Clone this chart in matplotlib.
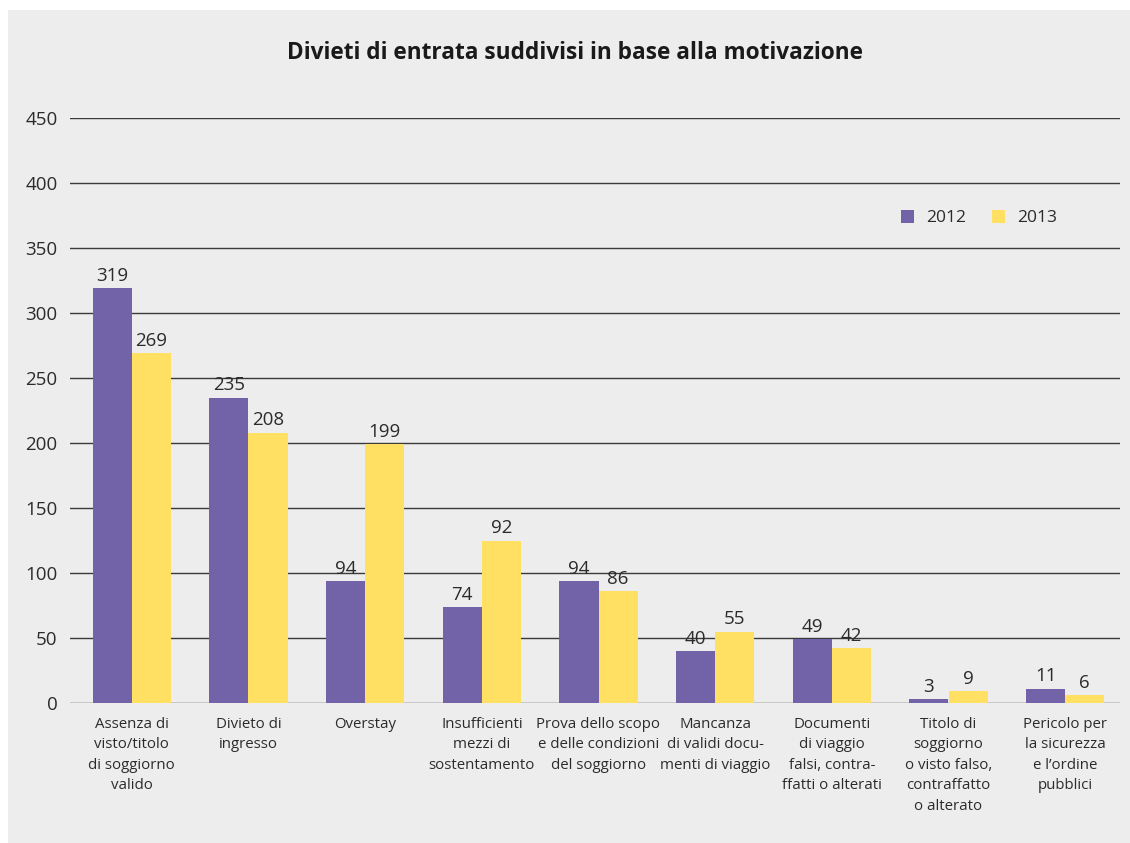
import matplotlib
matplotlib.use("Agg")
import matplotlib.pyplot as plt
import numpy as np
from matplotlib.patches import Rectangle

categories = [
    "Assenza di\nvisto/titolo\ndi soggiorno\nvalido",
    "Divieto di\ningresso",
    "Overstay",
    "Insufficienti\nmezzi di\nsostentamento",
    "Prova dello scopo\ne delle condizioni\ndel soggiorno",
    "Mancanza\ndi validi docu-\nmenti di viaggio",
    "Documenti\ndi viaggio\nfalsi, contra-\nffatti o alterati",
    "Titolo di\nsoggiorno\no visto falso,\ncontraffatto\no alterato",
    "Pericolo per\nla sicurezza\ne l\u2019ordine\npubblici",
]
series_names = ["2012", "2013"]
values_2012 = [319, 235, 94, 74, 94, 40, 49, 3, 11]
values_2013 = [269, 208, 199, 125, 86, 55, 42, 9, 6]   # bar heights as drawn
labels_2012 = ["319", "235", "94", "74", "94", "40", "49", "3", "11"]
labels_2013 = ["269", "208", "199", "92", "86", "55", "42", "9", "6"]
yticks = [0, 50, 100, 150, 200, 250, 300, 350, 400, 450]

purple = "#7263A8"
yellow = "#FFE063"
bg = "#EDEDED"
txt = "#2b2b2b"

plt.rcParams['font.family'] = ['Open Sans', 'DejaVu Sans']

W, H = 1130, 843
fig = plt.figure(figsize=(W / 100, H / 100), dpi=100)
fig.patch.set_facecolor("white")
fig.patches.append(Rectangle((8 / W, 0), 1 - 8 / W, 1 - 10 / H,
                             transform=fig.transFigure, facecolor=bg,
                             edgecolor="none", zorder=-10))

ax = fig.add_axes([70 / W, (H - 703) / H, (1120 - 70) / W, (703 - 118) / H])
ax.set_facecolor(bg)
ax.patch.set_alpha(0)

x = np.arange(len(categories))
bw = 0.335
ax.bar(x - bw / 2, values_2012, bw, color=purple, zorder=3, label=series_names[0])
ax.bar(x + bw / 2, values_2013, bw, color=yellow, zorder=3, label=series_names[1])

for xi, v, l in zip(x, values_2012, labels_2012):
    ax.text(xi - bw / 2, v + 2.5, l, ha="center", va="bottom", fontsize=13.5, color=txt)
for xi, v, l in zip(x, values_2013, labels_2013):
    ax.text(xi + bw / 2, v + 2.5, l, ha="center", va="bottom", fontsize=13.5, color=txt)

ax.set_xlim(-0.53, 8.47)
ax.set_ylim(0, 450)
ax.set_yticks(yticks)
ax.set_yticklabels([str(t) for t in yticks], fontsize=13.5, color=txt)
ax.yaxis.grid(True, color="#3a3a3a", linewidth=1.0, zorder=0)
ax.set_axisbelow(True)
ax.tick_params(axis="y", length=0, pad=9)
ax.tick_params(axis="x", length=0, pad=10)
ax.set_xticks(x)
ax.set_xticklabels(categories, fontsize=10.8, color=txt, linespacing=1.5, va="top")
for s in ax.spines.values():
    s.set_visible(False)

fig.text(575 / W, 1 - 53 / H, "Divieti di entrata suddivisi in base alla motivazione",
         ha="center", va="center", fontsize=16.3, fontweight="bold", color="#1a1a1a")

# legend
leg = ax.legend(loc="upper left", bbox_to_anchor=((894 - 70) / 1050, (703 - 203) / 585),
                ncol=2, frameon=False, fontsize=12.5, handlelength=0.75, handleheight=0.75,
                columnspacing=1.5, handletextpad=0.7, borderaxespad=0)
for t in leg.get_texts():
    t.set_color(txt)

fig.savefig("out.png", dpi=100, facecolor=fig.get_facecolor())
